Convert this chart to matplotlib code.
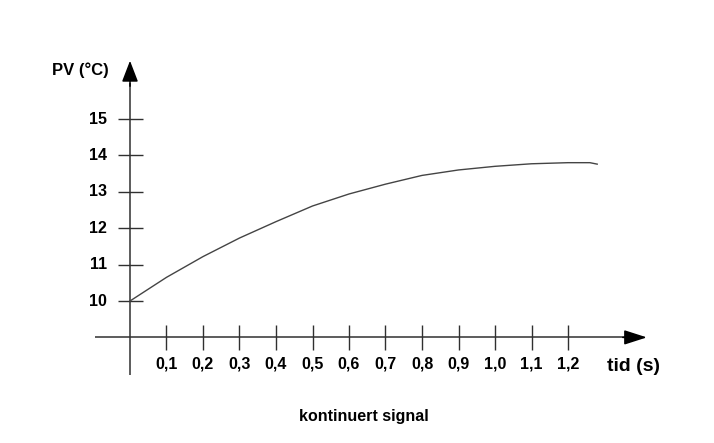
import matplotlib
matplotlib.use('Agg')
import matplotlib.pyplot as plt

font = {'family': 'Liberation Sans',
        'weight': 'bold',
        'size': 11.5}
matplotlib.rc('font', **font)

# curve
tid = [0.0, 0.1, 0.2, 0.3, 0.4, 0.5, 0.6, 0.7, 0.8, 0.9, 1.0, 1.1, 1.2, 1.26, 1.28]
pv = [10.0, 10.65, 11.22, 11.73, 12.18, 12.61, 12.94, 13.21, 13.45, 13.6, 13.7, 13.77, 13.8, 13.8, 13.76]

x_ticks = [0.1, 0.2, 0.3, 0.4, 0.5, 0.6, 0.7, 0.8, 0.9, 1.0, 1.1, 1.2]
x_labels = ['0,1', '0,2', '0,3', '0,4', '0,5', '0,6', '0,7', '0,8', '0,9', '1,0', '1,1', '1,2']
y_ticks = [10, 11, 12, 13, 14, 15]
y_labels = ['10', '11', '12', '13', '14', '15']

fig = plt.figure(figsize=(7.14, 4.43), dpi=100)
ax = fig.add_axes([0, 0, 1, 1])
# 365 px per second, 36.4 px per degree
ax.set_xlim(-130 / 365, 584 / 365)
ax.set_ylim(10 - 142 / 36.4, 10 + 301 / 36.4)
ax.axis('off')

axis_col = '#303030'
x_axis_y = 9.0

# axes with arrow heads
ax.plot([-0.096, 1.36], [x_axis_y, x_axis_y], color=axis_col, lw=1.1, solid_capstyle='butt')
ax.annotate('', xy=(1.416, x_axis_y), xytext=(1.35, x_axis_y),
            arrowprops=dict(arrowstyle='-|>,head_length=1.4,head_width=0.45',
                            mutation_scale=10, color='black', lw=1.1, shrinkA=0, shrinkB=0))
ax.plot([0, 0], [7.97, 16.0], color=axis_col, lw=1.1, solid_capstyle='butt')
ax.annotate('', xy=(0, 16.6), xytext=(0, 15.9),
            arrowprops=dict(arrowstyle='-|>,head_length=1.3,head_width=0.5',
                            mutation_scale=10, color='black', lw=1.1, shrinkA=0, shrinkB=0))

# ticks
ax.vlines(x_ticks, 8.65, 9.34, color=axis_col, lw=1.0)
ax.hlines(y_ticks, -0.033, 0.036, color=axis_col, lw=1.0)

for xt, lab in zip(x_ticks, x_labels):
    ax.text(xt, 8.26, lab, ha='center', va='center')
for yt, lab in zip(y_ticks, y_labels):
    ax.text(-0.063, yt, lab, ha='right', va='center')

# curve
ax.plot(tid, pv, color='#444444', lw=1.0)

ax.text(-0.058, 16.35, 'PV (°C)', ha='right', va='center', fontsize=12)
ax.text(1.38, 8.19, 'tid (s)', ha='center', va='center', fontsize=14)
ax.text(0.64, 6.82, 'kontinuert signal', ha='center', va='center', fontsize=11.5)

plt.savefig('out.png', dpi=100)
